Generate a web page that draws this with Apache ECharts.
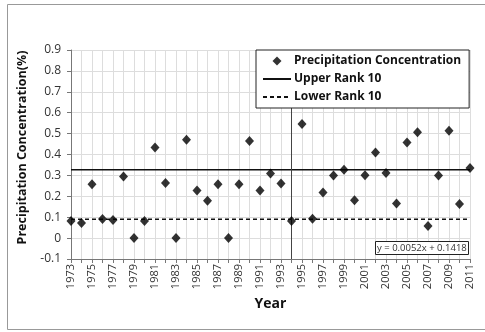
<!DOCTYPE html>
<html>
<head>
<meta charset="utf-8">
<script src="https://cdn.jsdelivr.net/npm/echarts@6/dist/echarts.min.js"></script>
<style>
  html, body { margin: 0; padding: 0; background: #fff; }
  #chart { width: 485px; height: 332px; }
</style>
</head>
<body>
<div id="chart"></div>
<script>
// years on the x axis
const years = ['1973', '1974', '1975', '1976', '1977', '1978', '1979', '1980', '1981', '1982',
    '1983', '1984', '1985', '1986', '1987', '1988', '1989', '1990', '1991', '1992',
    '1993', '1994', '1995', '1996', '1997', '1998', '1999', '2000', '2001', '2002',
    '2003', '2004', '2005', '2006', '2007', '2008', '2009', '2010', '2011']
// precipitation concentration, one value per year
const concentration = [0.082, 0.072, 0.258, 0.091, 0.087, 0.295, 0, 0.082, 0.433, 0.264,
    0, 0.471, 0.228, 0.179, 0.258, 0, 0.258, 0.465, 0.228, 0.309,
    0.261, 0.082, 0.546, 0.093, 0.218, 0.300, 0.327, 0.181, 0.301, 0.409,
    0.312, 0.165, 0.457, 0.506, 0.058, 0.300, 0.514, 0.163, 0.335]
const upperRank = 0.327
const lowerRank = 0.09
const splitYear = '1994'
const trendText = 'y = 0.0052x + 0.1418'

const font = '"Open Sans", "Noto Sans", sans-serif'
// diamond in the middle of the 28x10 legend box, corners keep the box size
const diamondIcon = 'path://M0,0M28,10M14,0.5L18.5,5L14,9.5L9.5,5Z'
const chart = echarts.init(document.getElementById('chart'))

chart.setOption({
    animation: false,
    backgroundColor: '#fff',
    textStyle: { fontFamily: font },
    grid: { left: 71, right: 15, top: 50, bottom: 73 },
    title: {
        text: trendText,
        left: 375,
        top: 241,
        padding: [2, 2, 2, 2],
        backgroundColor: '#fff',
        borderColor: '#222',
        borderWidth: 1,
        textStyle: { fontSize: 9.5, fontWeight: 'normal', color: '#333', fontFamily: font }
    },
    legend: {
        orient: 'vertical',
        left: 256,
        top: 50,
        z: 20,
        padding: [5, 8, 5, 6],
        itemGap: 6,
        itemWidth: 28,
        itemHeight: 10,
        backgroundColor: '#fff',
        borderColor: '#222',
        borderWidth: 1,
        borderRadius: 0,
        textStyle: { fontSize: 12, fontWeight: 'bold', color: '#111', padding: [0, 0, 0, -2] },
        data: [
            { name: 'Precipitation Concentration', icon: diamondIcon },
            { name: 'Upper Rank 10', itemStyle: { color: 'transparent', borderColor: 'transparent', borderWidth: 0 } },
            { name: 'Lower Rank 10', itemStyle: { color: 'transparent', borderColor: 'transparent', borderWidth: 0 } }
        ]
    },
    xAxis: {
        type: 'category',
        data: years,
        boundaryGap: false,
        name: 'Year',
        nameLocation: 'middle',
        nameGap: 37,
        nameTextStyle: { fontSize: 14, fontWeight: 'bold', color: '#111' },
        axisLine: { onZero: false, lineStyle: { color: '#777' } },
        axisTick: { interval: 0, length: 4, lineStyle: { color: '#777' } },
        axisLabel: { interval: 1, rotate: 90, fontSize: 11, color: '#333', margin: 5 },
        splitLine: { show: true, interval: 0, lineStyle: { color: '#ddd' } }
    },
    yAxis: {
        type: 'value',
        min: -0.1,
        max: 0.9,
        interval: 0.1,
        name: 'Precipitation Concentration(%)',
        nameLocation: 'middle',
        nameGap: 42,
        nameTextStyle: { fontSize: 12.5, fontWeight: 'bold', color: '#111', padding: [0, 0, 0, 14] },
        axisLine: { show: true, lineStyle: { color: '#777' } },
        axisTick: { show: true, length: 4, lineStyle: { color: '#777' } },
        axisLabel: { fontSize: 12, color: '#333', margin: 10 },
        splitLine: { lineStyle: { color: '#ddd' } }
    },
    graphic: [
        {
            type: 'rect',
            shape: { x: 7.5, y: 4.5, width: 490, height: 325 },
            style: { fill: 'none', stroke: '#999', lineWidth: 1 },
            silent: true
        }
    ],
    series: [
        {
            name: 'Upper Rank 10',
            type: 'line',
            symbol: 'none',
            lineStyle: { color: '#111', width: 1.5, type: 'solid' },
            itemStyle: { color: '#111' },
            data: [[years[0], upperRank], [years[years.length - 1], upperRank]],
            markLine: {
                silent: true,
                symbol: 'none',
                label: { show: false },
                lineStyle: { color: '#444', width: 1, type: 'solid' },
                data: [{ xAxis: splitYear }]
            },
            z: 3
        },
        {
            name: 'Lower Rank 10',
            type: 'line',
            symbol: 'none',
            lineStyle: { color: '#111', width: 1.5, type: [4, 3] },
            itemStyle: { color: '#111' },
            data: [[years[0], lowerRank], [years[years.length - 1], lowerRank]],
            z: 3
        },
        {
            name: 'Precipitation Concentration',
            type: 'scatter',
            symbol: 'diamond',
            symbolSize: [9, 10],
            itemStyle: { color: '#000' },
            data: concentration,
            z: 5
        }
    ]
})
</script>
</body>
</html>
